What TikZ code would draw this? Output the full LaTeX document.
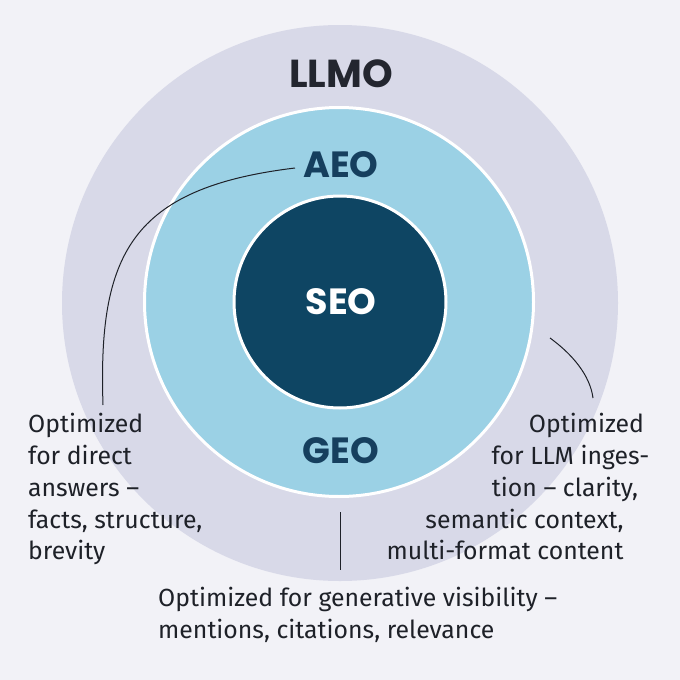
\documentclass[tikz,border=0pt]{standalone}
\usepackage{fontspec}
\setmainfont{Fira Sans}
\newfontfamily\headfont{Poppins}
\definecolor{bgc}{HTML}{F2F2F7}
\definecolor{outerc}{HTML}{D8D9E8}
\definecolor{midc}{HTML}{9BD1E5}
\definecolor{innerc}{HTML}{0E4563}
\definecolor{llmoc}{HTML}{23262F}
\definecolor{tealc}{HTML}{163F5E}
\definecolor{bodyc}{HTML}{1E2128}
\tikzset{
  ring/.style={circle, inner sep=0pt, outer sep=0pt},
  head/.style={font=\headfont\bfseries\fontsize{36.5}{40}\selectfont, anchor=base, inner sep=0pt},
  bodyline/.style={font=\fontsize{24.8}{30}\selectfont, text=bodyc, inner sep=0pt},
  leader/.style={draw=bodyc, line width=1pt}
}
\begin{document}
\begin{tikzpicture}[x=1pt,y=-1pt]
\fill[bgc] (0,0) rectangle (680,680);
\useasboundingbox (0,0) rectangle (680,680);
\node[ring, fill=outerc, minimum size=556pt] (outer) at (340,303) {};
\node[ring, fill=midc, draw=white, line width=3pt, minimum size=389pt] (mid) at (339,302) {};
\node[ring, fill=innerc, draw=white, line width=3pt, minimum size=212pt] (inner) at (340,302) {};

\node[head, text=llmoc, font=\headfont\bfseries\fontsize{39}{42}\selectfont] (llmo) at (341,87) {LLMO};
\node[head, text=tealc] (aeo) at (341,177) {AEO};
\node[head, text=white] (seo) at (341,314) {SEO};
\node[head, text=tealc] (geo) at (341,463) {GEO};

% left text
\node[bodyline, anchor=base west] (l1) at (28,432) {Optimized};
\node[bodyline, anchor=base west] (l2) at (28,464) {for direct};
\node[bodyline, anchor=base west] (l3) at (28,496) {answers –};
\node[bodyline, anchor=base west] (l4) at (28,528) {facts, structure,};
\node[bodyline, anchor=base west] (l5) at (28,559) {brevity};

% right text
\node[bodyline, anchor=base] (r1) at (586.5,432) {Optimized};
\node[bodyline, anchor=base] (r2) at (570.5,464) {for LLM inges-};
\node[bodyline, anchor=base] (r3) at (565,496) {tion – clarity,};
\node[bodyline, anchor=base] (r4) at (524.5,528) {semantic context,};
\node[bodyline, anchor=base] (r5) at (505,559) {multi-format content};

% bottom text
\node[bodyline, anchor=base west] (b1) at (158,606) {Optimized for generative visibility –};
\node[bodyline, anchor=base west] (b2) at (158,638) {mentions, citations, relevance};

% connectors
\coordinate (aeoend) at (295,168);
\coordinate (lefttip) at (103,405);
\draw[leader] (aeoend) .. controls (130,188) and (98,255) .. (lefttip);
\coordinate (rstart) at (550,338);
\coordinate (rend) at (593,398);
\draw[leader] (rstart) .. controls (572,354) and (590,375) .. (rend);
\coordinate (btop) at (340,512);
\coordinate (bbot) at (340,570);
\draw[leader] (btop) -- (bbot);
\end{tikzpicture}
\end{document}
